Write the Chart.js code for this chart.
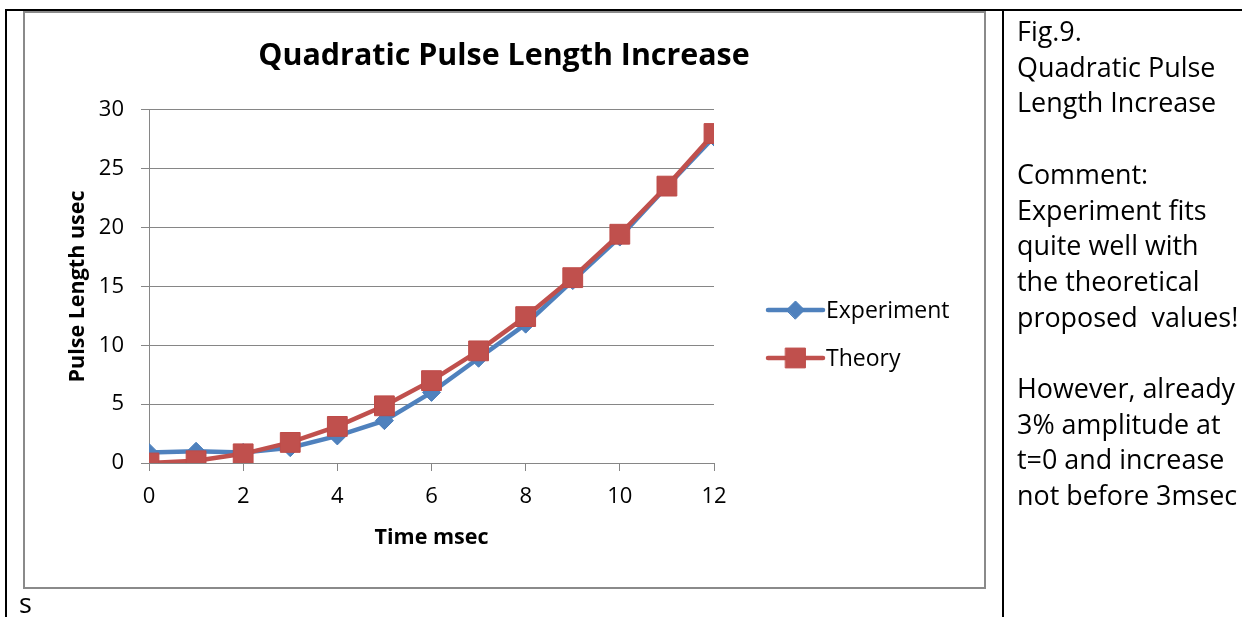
<!DOCTYPE html>
<html>
<head>
<meta charset="utf-8">
<script src="https://cdn.jsdelivr.net/npm/chart.js@4/dist/chart.umd.min.js"></script>
<style>
  html, body { margin: 0; padding: 0; background: #fff; width: 1242px; height: 617px; overflow: hidden; }
  .abs { position: absolute; }
  #topline { left: 5px; top: 9px; width: 1237px; height: 2px; background: #000; }
  #leftline { left: 5px; top: 9px; width: 2px; height: 608px; background: #000; }
  #divline { left: 1002px; top: 9px; width: 2px; height: 608px; background: #000; }
  #chartbox { left: 23px; top: 11px; width: 959px; height: 574px; border: 2px solid #8a8a8a; }
  #cv { left: 0; top: 0; }
  #note { left: 1017px; top: 13px; font-family: "Open Sans", sans-serif; font-size: 26.9px; line-height: 35.7px; color: #000; white-space: pre; }
  #s { left: 19px; top: 585px; font-family: "Open Sans", sans-serif; font-size: 26.9px; line-height: 35.7px; color: #000; }
</style>
</head>
<body>
<div class="abs" id="chartbox"></div>
<div class="abs" id="topline"></div>
<div class="abs" id="leftline"></div>
<div class="abs" id="divline"></div>
<canvas class="abs" id="cv" width="1242" height="617"></canvas>
<div class="abs" id="note">Fig.9.
Quadratic Pulse
Length Increase

Comment:
Experiment fits
quite well with
the theoretical
proposed  values!

However, already
3% amplitude at
t=0 and increase
not before 3msec</div>
<div class="abs" id="s">s</div>
<script>
// ---- data ----
const timeMsec = [0, 1, 2, 3, 4, 5, 6, 7, 8, 9, 10, 11, 12];
const experiment = [0.9, 1.0, 0.9, 1.3, 2.3, 3.6, 6.0, 8.9, 11.8, 15.5, 19.2, 23.5, 27.7];
const theory = [0.0, 0.19, 0.78, 1.75, 3.11, 4.86, 7.0, 9.53, 12.44, 15.75, 19.44, 23.53, 28.0];
const seriesNames = ["Experiment", "Theory"];
const chartTitle = "Quadratic Pulse Length Increase";
const xTitle = "Time msec";
const yTitle = "Pulse Length usec";

const BLUE = "#4F81BD";
const RED = "#C0504D";
const GRID = "#868686";
const FONT = "'Open Sans', sans-serif";

const toPts = (vals) => timeMsec.map((t, i) => ({ x: t, y: vals[i] }));

// custom legend: line + marker + label, drawn from the datasets
const lineLegend = {
  id: "lineLegend",
  afterDraw(chart) {
    const ctx = chart.ctx;
    const ca = chart.chartArea;
    const x0 = ca.right + 54, y0 = ca.top + 200, dy = 48, len = 55;
    chart.data.datasets.forEach((ds, i) => {
      const y = y0 + i * dy;
      ctx.save();
      ctx.strokeStyle = ds.borderColor;
      ctx.lineWidth = ds.borderWidth;
      ctx.lineCap = "round";
      ctx.beginPath();
      ctx.moveTo(x0, y);
      ctx.lineTo(x0 + len, y);
      ctx.stroke();
      ctx.fillStyle = ds.pointBackgroundColor;
      ctx.strokeStyle = ds.pointBorderColor;
      ctx.lineWidth = 1;
      Chart.helpers.drawPoint(ctx, {
        pointStyle: ds.pointStyle, radius: ds.pointRadius, borderWidth: 1, rotation: 0
      }, x0 + len / 2, y);
      ctx.fillStyle = "#000";
      ctx.font = "23px " + FONT;
      ctx.textBaseline = "middle";
      ctx.textAlign = "left";
      ctx.fillText(ds.label, x0 + len + 3, y + 1);
      ctx.restore();
    });
  }
};

new Chart(document.getElementById("cv"), {
  type: "line",
  data: {
    datasets: [
      {
        label: seriesNames[0], data: toPts(experiment),
        borderColor: BLUE, backgroundColor: BLUE, borderWidth: 4.5,
        pointStyle: "rectRot", pointRadius: 9, pointBackgroundColor: BLUE,
        pointBorderColor: "#4A7EBB", pointBorderWidth: 1, tension: 0, order: 1
      },
      {
        label: seriesNames[1], data: toPts(theory),
        borderColor: RED, backgroundColor: RED, borderWidth: 4.5,
        pointStyle: "rect", pointRadius: 14, pointBackgroundColor: RED,
        pointBorderColor: "#BE4B48", pointBorderWidth: 1, tension: 0, order: 0
      }
    ]
  },
  options: {
    responsive: false,
    animation: false,
    devicePixelRatio: 1,
    layout: { padding: { left: 24, right: 258, top: 11, bottom: 30 } },
    plugins: {
      legend: { display: false },
      tooltip: { enabled: false },
      title: {
        display: true, text: chartTitle, color: "#000",
        font: { family: FONT, size: 30.4, weight: "bold" },
        padding: { top: 27.5, bottom: 35 }
      }
    },
    scales: {
      x: {
        type: "linear", min: 0, max: 12,
        ticks: { stepSize: 2, color: "#000", font: { family: FONT, size: 22 }, padding: 13, maxRotation: 0 },
        grid: { drawOnChartArea: false, drawTicks: true, tickLength: 8, color: GRID, lineWidth: 1 },
        border: { display: true, color: GRID, width: 1 },
        title: { display: true, text: xTitle, color: "#000", font: { family: FONT, size: 21.5, weight: "bold" }, padding: { top: 0, bottom: 36 } },
        afterFit: (s) => { s.height = 124; }
      },
      y: {
        type: "linear", position: "left", min: 0, max: 30,
        ticks: { stepSize: 5, color: "#000", font: { family: FONT, size: 22 }, padding: 17 },
        grid: { color: GRID, lineWidth: 1, tickLength: 8, drawTicks: true },
        border: { display: true, color: GRID, width: 1 },
        title: { display: true, text: yTitle, color: "#000", font: { family: FONT, size: 21.5, weight: "bold" }, padding: { top: 40.6, bottom: 0 } },
        afterFit: (s) => { s.width = 125; }
      },
      yR: {
        type: "linear", position: "right", display: true,
        grid: { display: false }, ticks: { display: false }, border: { display: false },
        afterFit: (s) => { s.width = 270; }
      }
    }
  },
  plugins: [lineLegend]
});
</script>
</body>
</html>
